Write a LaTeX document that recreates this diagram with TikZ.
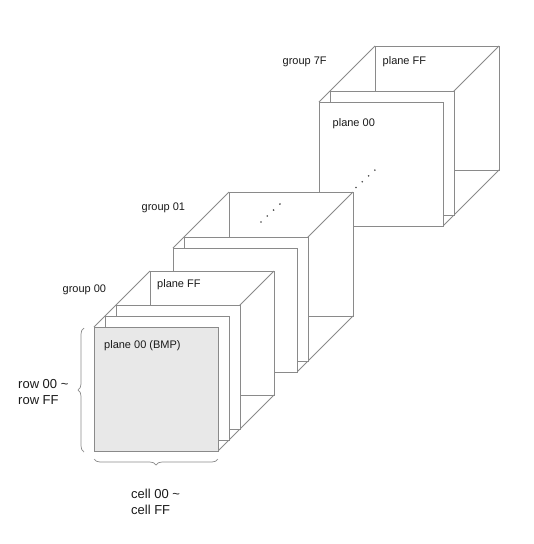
\documentclass[tikz,border=0pt]{standalone}
\usepackage{fontspec}
\setmainfont{Liberation Sans}
\usetikzlibrary{decorations.pathreplacing}
\definecolor{edgec}{HTML}{8A8A8A}
\definecolor{bmpfill}{HTML}{E8E8E8}
\definecolor{txtc}{HTML}{1A1A1A}
\tikzset{
  face/.style={draw=edgec, fill=white, line width=0.9pt},
  bmpface/.style={draw=edgec, fill=bmpfill, line width=0.9pt},
  edge/.style={draw=edgec, line width=0.9pt},
  lab/.style={inner sep=0pt, text=txtc, font=\fontsize{11}{13}\selectfont},
  biglab/.style={inner sep=0pt, text=txtc, font=\fontsize{13}{16}\selectfont},
  bracec/.style={draw=edgec, line width=0.7pt, decorate, decoration={brace, amplitude=6pt}},
  dotc/.style={fill=txtc!80}
}
\newcommand{\cubebody}[2]{%
  \filldraw[face] ({#1+56},{#2-56}) rectangle ++(124,124);
  \draw[edge] (#1,#2) -- ++(56,-56);
  \draw[edge] ({#1+124},#2) -- ++(56,-56);
  \draw[edge] ({#1+124},{#2+124}) -- ++(56,-56);
}
\begin{document}
\begin{tikzpicture}[x=1pt, y=-1pt]
\useasboundingbox (0,0) rectangle (534,544);
% group 7F
\cubebody{319}{102}
\filldraw[face] (330,91) rectangle ++(124,124);
\filldraw[face] (319,102) rectangle ++(124,124);
% group 01
\cubebody{173}{248}
\filldraw[face] (184,237) rectangle ++(124,124);
\filldraw[face] (173,248) rectangle ++(124,124);
% group 00
\cubebody{94}{327}
\filldraw[face] (116,305) rectangle ++(124,124);
\filldraw[face] (105,316) rectangle ++(124,124);
\filldraw[bmpface] (94,327) rectangle ++(124,124);
% dots
\foreach \i in {0,1,2,3} {
  \fill[dotc] ({261+6.3*\i},{222-6*\i}) circle [radius=0.9pt];
  \fill[dotc] ({356+6.3*\i},{187.5-5.8*\i}) circle [radius=0.9pt];
}
% braces
\draw[bracec] (84,452) -- (84,328);
\draw[bracec] (218,459) -- (94,459);
% labels
\node[lab, anchor=base west] (g7f) at (282.5,64.5) {group 7F};
\node[lab, anchor=base west] (p7fff) at (382.5,64.5) {plane FF};
\node[lab, anchor=base west] (p7f00) at (332.5,126) {plane 00};
\node[lab, anchor=base west] (g01) at (141.5,210.5) {group 01};
\node[lab, anchor=base west] (g00) at (62.5,292) {group 00};
\node[lab, anchor=base west] (p00ff) at (157,287.5) {plane FF};
\node[lab, anchor=base west] (p0000) at (104,348) {plane 00 (BMP)};
\node[biglab, anchor=base west, align=left] (rows) at (18,388) {row 00 \textasciitilde};
\node[biglab, anchor=base west] (rows2) at (18,404) {row FF};
\node[biglab, anchor=base west] (cells) at (131,498) {cell 00 \textasciitilde};
\node[biglab, anchor=base west] (cells2) at (131,514) {cell FF};
\end{tikzpicture}
\end{document}
